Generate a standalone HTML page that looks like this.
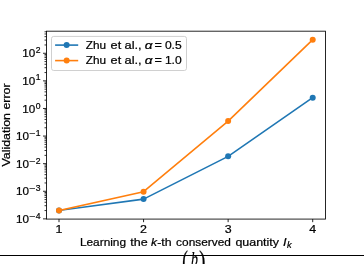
<!DOCTYPE html>
<html><head><meta charset="utf-8"><title>Validation error plot</title>
<style>html,body{margin:0;padding:0;background:#fff;}body{width:364px;height:264px;overflow:hidden;}svg{display:block;}text{font-family:"Liberation Sans",sans-serif;fill:#000;stroke:#000;stroke-width:0.22px;}.s{font-family:"Liberation Serif",serif;}</style>
</head><body>
<svg width="364" height="264" viewBox="0 0 364 264">
<rect x="0" y="0" width="364" height="264" fill="#fff"/>
<rect x="0" y="255" width="364" height="1" fill="#000"/>
<polyline points="59.00,210.45 143.57,199.10 228.14,156.35 312.71,97.65" fill="none" stroke="#1f77b4" stroke-width="1.59" stroke-linejoin="round" stroke-linecap="square"/>
<circle cx="59.00" cy="210.45" r="3.0" fill="#1f77b4"/>
<circle cx="143.57" cy="199.10" r="3.0" fill="#1f77b4"/>
<circle cx="228.14" cy="156.35" r="3.0" fill="#1f77b4"/>
<circle cx="312.71" cy="97.65" r="3.0" fill="#1f77b4"/>
<polyline points="59.00,210.45 143.57,191.70 228.14,121.10 312.71,39.65" fill="none" stroke="#ff7f0e" stroke-width="1.59" stroke-linejoin="round" stroke-linecap="square"/>
<circle cx="59.00" cy="210.45" r="3.0" fill="#ff7f0e"/>
<circle cx="143.57" cy="191.70" r="3.0" fill="#ff7f0e"/>
<circle cx="228.14" cy="121.10" r="3.0" fill="#ff7f0e"/>
<circle cx="312.71" cy="39.65" r="3.0" fill="#ff7f0e"/>
<path d="M59.00 219.08v3.1M143.57 219.08v3.1M228.14 219.08v3.1M312.71 219.08v3.1M46.5 218.87h-3.50M46.5 191.27h-3.50M46.5 163.67h-3.50M46.5 136.07h-3.50M46.5 108.47h-3.50M46.5 80.87h-3.50M46.5 53.27h-3.50" stroke="#000" stroke-width="0.85" fill="none"/>
<path d="M46.5 210.56h-2.00M46.5 205.70h-2.00M46.5 202.25h-2.00M46.5 199.58h-2.00M46.5 197.39h-2.00M46.5 195.55h-2.00M46.5 193.94h-2.00M46.5 192.53h-2.00M46.5 182.96h-2.00M46.5 178.10h-2.00M46.5 174.65h-2.00M46.5 171.98h-2.00M46.5 169.79h-2.00M46.5 167.95h-2.00M46.5 166.34h-2.00M46.5 164.93h-2.00M46.5 155.36h-2.00M46.5 150.50h-2.00M46.5 147.05h-2.00M46.5 144.38h-2.00M46.5 142.19h-2.00M46.5 140.35h-2.00M46.5 138.74h-2.00M46.5 137.33h-2.00M46.5 127.76h-2.00M46.5 122.90h-2.00M46.5 119.45h-2.00M46.5 116.78h-2.00M46.5 114.59h-2.00M46.5 112.75h-2.00M46.5 111.14h-2.00M46.5 109.73h-2.00M46.5 100.16h-2.00M46.5 95.30h-2.00M46.5 91.85h-2.00M46.5 89.18h-2.00M46.5 86.99h-2.00M46.5 85.15h-2.00M46.5 83.54h-2.00M46.5 82.13h-2.00M46.5 72.56h-2.00M46.5 67.70h-2.00M46.5 64.25h-2.00M46.5 61.58h-2.00M46.5 59.39h-2.00M46.5 57.55h-2.00M46.5 55.94h-2.00M46.5 54.53h-2.00M46.5 44.96h-2.00M46.5 40.10h-2.00M46.5 36.65h-2.00M46.5 33.98h-2.00M46.5 31.79h-2.00" stroke="#000" stroke-width="0.80" fill="none"/>
<rect x="46.5" y="31.18" width="278.95" height="187.90" fill="none" stroke="#000" stroke-width="0.85"/>
<rect x="51.5" y="36.4" width="135.0" height="34.1" rx="2.2" ry="2.2" fill="#fff" fill-opacity="0.8" stroke="#d0d0d0" stroke-width="1"/>
<path d="M55.9 45.1H77.4" stroke="#1f77b4" stroke-width="1.59" stroke-linecap="square"/>
<circle cx="66.65" cy="45.1" r="3.0" fill="#1f77b4"/>
<path d="M55.9 60.6H77.4" stroke="#ff7f0e" stroke-width="1.59" stroke-linecap="square"/>
<circle cx="66.65" cy="60.6" r="3.0" fill="#ff7f0e"/>
<g style="filter:grayscale(1)">
<text font-size="11.0"><tspan x="85.7" y="49" textLength="20.3" lengthAdjust="spacingAndGlyphs">Zhu</tspan> <tspan x="110.6" y="49" textLength="10.6" lengthAdjust="spacingAndGlyphs">et</tspan> <tspan x="124.5" y="49" textLength="17.2" lengthAdjust="spacingAndGlyphs">al.,</tspan> <tspan x="144.7" y="49" textLength="7.8" lengthAdjust="spacingAndGlyphs" font-style="italic">α</tspan> <tspan x="154.5" y="49" textLength="7.4" lengthAdjust="spacingAndGlyphs">=</tspan> <tspan x="164.9" y="49" textLength="16.8" lengthAdjust="spacingAndGlyphs">0.5</tspan></text>
<text font-size="11.0"><tspan x="85.7" y="64" textLength="20.3" lengthAdjust="spacingAndGlyphs">Zhu</tspan> <tspan x="110.6" y="64" textLength="10.6" lengthAdjust="spacingAndGlyphs">et</tspan> <tspan x="124.5" y="64" textLength="17.2" lengthAdjust="spacingAndGlyphs">al.,</tspan> <tspan x="144.7" y="64" textLength="7.8" lengthAdjust="spacingAndGlyphs" font-style="italic">α</tspan> <tspan x="154.5" y="64" textLength="7.4" lengthAdjust="spacingAndGlyphs">=</tspan> <tspan x="164.9" y="64" textLength="16.8" lengthAdjust="spacingAndGlyphs">1.0</tspan></text>
<text x="59.00" y="233" font-size="11.0" text-anchor="middle" textLength="6.9" lengthAdjust="spacingAndGlyphs">1</text>
<text x="143.57" y="233" font-size="11.0" text-anchor="middle" textLength="6.9" lengthAdjust="spacingAndGlyphs">2</text>
<text x="228.14" y="233" font-size="11.0" text-anchor="middle" textLength="6.9" lengthAdjust="spacingAndGlyphs">3</text>
<text x="312.71" y="233" font-size="11.0" text-anchor="middle" textLength="6.9" lengthAdjust="spacingAndGlyphs">4</text>
<text font-size="11.0"><tspan x="16.0" y="223" textLength="13.0" lengthAdjust="spacingAndGlyphs">10</tspan><tspan x="29.6" y="219" font-size="8.4" textLength="6.2" lengthAdjust="spacingAndGlyphs">−</tspan><tspan x="35.8" y="219" font-size="8.4" textLength="4.8" lengthAdjust="spacingAndGlyphs">4</tspan></text>
<text font-size="11.0"><tspan x="16.0" y="195" textLength="13.0" lengthAdjust="spacingAndGlyphs">10</tspan><tspan x="29.6" y="191" font-size="8.4" textLength="6.2" lengthAdjust="spacingAndGlyphs">−</tspan><tspan x="35.8" y="191" font-size="8.4" textLength="4.8" lengthAdjust="spacingAndGlyphs">3</tspan></text>
<text font-size="11.0"><tspan x="16.0" y="168" textLength="13.0" lengthAdjust="spacingAndGlyphs">10</tspan><tspan x="29.6" y="164" font-size="8.4" textLength="6.2" lengthAdjust="spacingAndGlyphs">−</tspan><tspan x="35.8" y="164" font-size="8.4" textLength="4.8" lengthAdjust="spacingAndGlyphs">2</tspan></text>
<text font-size="11.0"><tspan x="16.0" y="140" textLength="13.0" lengthAdjust="spacingAndGlyphs">10</tspan><tspan x="29.6" y="136" font-size="8.4" textLength="6.2" lengthAdjust="spacingAndGlyphs">−</tspan><tspan x="35.8" y="136" font-size="8.4" textLength="4.8" lengthAdjust="spacingAndGlyphs">1</tspan></text>
<text font-size="11.0"><tspan x="22.3" y="113" textLength="13.0" lengthAdjust="spacingAndGlyphs">10</tspan><tspan x="35.7" y="109" font-size="8.4" textLength="4.8" lengthAdjust="spacingAndGlyphs">0</tspan></text>
<text font-size="11.0"><tspan x="22.3" y="85" textLength="13.0" lengthAdjust="spacingAndGlyphs">10</tspan><tspan x="35.7" y="80" font-size="8.4" textLength="4.8" lengthAdjust="spacingAndGlyphs">1</tspan></text>
<text font-size="11.0"><tspan x="22.3" y="57" textLength="13.0" lengthAdjust="spacingAndGlyphs">10</tspan><tspan x="35.7" y="53" font-size="8.4" textLength="4.8" lengthAdjust="spacingAndGlyphs">2</tspan></text>
<text font-size="11.0"><tspan x="79.9" y="246" textLength="46.2" lengthAdjust="spacingAndGlyphs">Learning</tspan> <tspan x="130.3" y="246" textLength="17.4" lengthAdjust="spacingAndGlyphs">the</tspan> <tspan x="151.0" y="246" textLength="6.0" lengthAdjust="spacingAndGlyphs" font-style="italic">k</tspan><tspan x="157.2" y="246" textLength="14.4" lengthAdjust="spacingAndGlyphs">-th</tspan> <tspan x="176.1" y="246" textLength="54.8" lengthAdjust="spacingAndGlyphs">conserved</tspan> <tspan x="235.4" y="246" textLength="43.6" lengthAdjust="spacingAndGlyphs">quantity</tspan> <tspan x="283.0" y="246" textLength="3.6" lengthAdjust="spacingAndGlyphs" font-style="italic">I</tspan><tspan x="287.0" y="248" font-size="8.4" textLength="4.6" lengthAdjust="spacingAndGlyphs" font-style="italic">k</tspan></text>
<text transform="translate(10.4 166.6) rotate(-90)" font-size="11.0" textLength="83.2" lengthAdjust="spacingAndGlyphs">Validation error</text>
<text class="s" transform="translate(182.3 270.6) scale(1 1.78)" font-size="16.7">(</text>
<text class="s" transform="translate(191.1 265.5) scale(0.66 1)" font-size="21" font-style="italic">b</text>
<text class="s" transform="translate(199.3 270.6) scale(1.1 1.78)" font-size="16.7">)</text>
</g>
</svg>
</body></html>
